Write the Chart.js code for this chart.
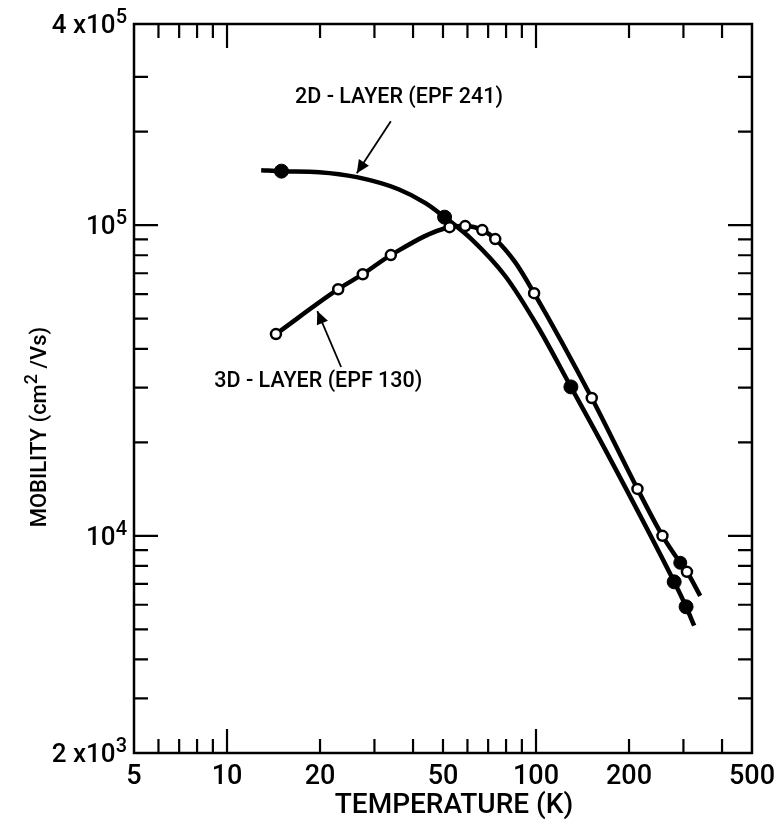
<!DOCTYPE html>
<html>
<head>
<meta charset="utf-8">
<script src="https://cdn.jsdelivr.net/npm/chart.js@4"></script>
<style>
  body { margin: 0; background: #fff; }
</style>
</head>
<body>
<canvas id="grafico" width="783" height="834"></canvas>
<script>
// valores: temperatura (K) e mobilidade (cm2/Vs)

// curva 2D - LAYER (EPF 241)
const tempCurva2D = [12.9, 15.0, 19.9, 26.3, 35.9, 43.9, 50.6, 61.8, 79.5, 101.5, 129.7, 167, 280, 306, 325];
const mobCurva2D = [150300, 149200, 148100, 142700, 130500, 117700, 106100, 90200, 68600, 47000, 30150, 19050, 7110, 5910, 5140];
// pontos cheios medidos (2D)
const tempPontos2D = [15.0, 50.6, 129.7, 280, 306];
const mobPontos2D = [149200, 106100, 30150, 7110, 5910];

// curva 3D - LAYER (EPF 130)
const tempCurva3D = [14.4, 22.9, 27.5, 33.9, 52.5, 59, 67, 73.8, 85.6, 98.6, 151.5, 213, 256.6, 293, 308, 340];
const mobCurva3D = [44600, 62200, 69500, 80100, 98500, 99300, 96400, 90200, 76000, 60400, 27770, 14160, 10000, 8190, 7660, 6410];
// pontos abertos medidos (3D)
const tempPontos3D = [14.4, 22.9, 27.5, 33.9, 52.5, 59, 67, 73.8, 98.6, 151.5, 213, 256.6, 308];
const mobPontos3D = [44600, 62200, 69500, 80100, 98500, 99300, 96400, 90200, 60400, 27770, 14160, 10000, 7660];
// ponto cheio isolado sobre a curva 3D
const tempExtra3D = [293];
const mobExtra3D = [8190];

// eixos
const xMin = 5, xMax = 500;
const yMin = 2000, yMax = 444000; // topo da moldura (rotulado 4 x 10^5 na figura)
const ticksX = [5, 6, 7, 8, 9, 10, 20, 30, 40, 50, 60, 70, 80, 90, 100, 200, 300, 400, 500];
const valoresRotuloX = [5, 10, 20, 50, 100, 200, 500];
const rotulosX = ['5', '10', '20', '50', '100', '200', '500'];
const ticksY = [2000, 3000, 4000, 5000, 6000, 7000, 8000, 9000, 10000, 20000, 30000, 40000, 50000, 60000, 70000, 80000, 90000, 100000, 200000, 300000, 444000];
const valoresRotuloY = [2000, 10000, 100000, 444000];
const prefixosRotuloY = ['2 x', '', '', '4 x'];
const expoentesRotuloY = ['3', '4', '5', '5'];
const ticksMaioresX = [10, 100];
const ticksMaioresY = [10000, 100000];

const tituloX = 'TEMPERATURE (K)';
const tituloY = ['MOBILITY (cm', '2', ' /Vs)'];

// anotacoes: texto e seta (em coordenadas de dados)
const anotacoes = [
    { texto: '2D - LAYER (EPF 241)', tx: 16.6, ty: 258000, de: [33.9, 216000], para: [26.3, 146900] },
    { texto: '3D - LAYER (EPF 130)', tx: 9.1, ty: 31260, de: [23.4, 34950], para: [19.6, 52900] }
];

const FONTE = 'Roboto, "DejaVu Sans", sans-serif';
const PESO = '500 ';

function pares(xs, ys) {
    return xs.map((x, i) => ({ x: x, y: ys[i] }));
}

// texto com expoente, alinhado pela direita ou centrado
function textoComExpoente(ctx, partes, x, y, tam, tamSup, subida, alinhamento) {
    ctx.font = PESO + tam + 'px ' + FONTE;
    const w0 = ctx.measureText(partes[0]).width;
    const w2 = partes[2] ? ctx.measureText(partes[2]).width : 0;
    ctx.font = PESO + tamSup + 'px ' + FONTE;
    const w1 = ctx.measureText(partes[1]).width;
    const total = w0 + w1 + w2;
    let x0 = alinhamento === 'right' ? x - total : x - total / 2;
    ctx.textAlign = 'left';
    ctx.textBaseline = 'alphabetic';
    const base = y + tam * 0.36;
    ctx.font = PESO + tam + 'px ' + FONTE;
    ctx.fillText(partes[0], x0, base);
    ctx.font = PESO + tamSup + 'px ' + FONTE;
    ctx.fillText(partes[1], x0 + w0, base - subida);
    if (partes[2]) {
        ctx.font = PESO + tam + 'px ' + FONTE;
        ctx.fillText(partes[2], x0 + w0 + w1, base);
    }
}

// moldura, marcas dos eixos, rotulos do eixo y, titulos e anotacoes
const desenhoFigura = {
    id: 'desenhoFigura',
    afterDatasetsDraw(chart) {
        const ctx = chart.ctx;
        const a = chart.chartArea;
        const sx = chart.scales.x;
        const sy = chart.scales.y;
        ctx.save();
        ctx.strokeStyle = '#000';
        ctx.fillStyle = '#000';
        ctx.lineWidth = 2.5;
        ctx.lineCap = 'butt';
        ctx.strokeRect(a.left, a.top, a.right - a.left, a.bottom - a.top);

        // marcas para dentro, nos quatro lados
        ctx.lineWidth = 2.2;
        ticksX.forEach((v) => {
            if (v === xMin || v === xMax) return;
            const px = sx.getPixelForValue(v);
            const len = ticksMaioresX.includes(v) ? 24 : 14;
            ctx.beginPath();
            ctx.moveTo(px, a.bottom); ctx.lineTo(px, a.bottom - len);
            ctx.moveTo(px, a.top); ctx.lineTo(px, a.top + len);
            ctx.stroke();
        });
        ticksY.forEach((v) => {
            if (v === yMin || v === yMax) return;
            const py = sy.getPixelForValue(v);
            const len = ticksMaioresY.includes(v) ? 24 : 14;
            ctx.beginPath();
            ctx.moveTo(a.left, py); ctx.lineTo(a.left + len, py);
            ctx.moveTo(a.right, py); ctx.lineTo(a.right - len, py);
            ctx.stroke();
        });

        // rotulos do eixo y (potencias de dez)
        valoresRotuloY.forEach((v, i) => {
            textoComExpoente(ctx, [prefixosRotuloY[i] + '10', expoentesRotuloY[i]],
                a.left - 7, sy.getPixelForValue(v), 26, 20, 10, 'right');
        });

        // titulos dos eixos
        ctx.font = PESO + '28px ' + FONTE;
        ctx.textAlign = 'center';
        ctx.textBaseline = 'middle';
        ctx.fillText(tituloX, 454, 806);
        ctx.save();
        ctx.translate(38, 427);
        ctx.rotate(-Math.PI / 2);
        textoComExpoente(ctx, tituloY, 0, 0, 22, 18, 9, 'center');
        ctx.restore();

        // anotacoes com setas
        ctx.font = PESO + '21.5px ' + FONTE;
        ctx.textAlign = 'left';
        ctx.textBaseline = 'middle';
        anotacoes.forEach((an) => {
            ctx.fillText(an.texto, sx.getPixelForValue(an.tx), sy.getPixelForValue(an.ty));
            const x1 = sx.getPixelForValue(an.de[0]), y1 = sy.getPixelForValue(an.de[1]);
            const x2 = sx.getPixelForValue(an.para[0]), y2 = sy.getPixelForValue(an.para[1]);
            ctx.lineWidth = 1.8;
            ctx.beginPath();
            ctx.moveTo(x1, y1); ctx.lineTo(x2, y2);
            ctx.stroke();
            const ang = Math.atan2(y2 - y1, x2 - x1);
            const comp = 13, larg = 6;
            ctx.beginPath();
            ctx.moveTo(x2, y2);
            ctx.lineTo(x2 - comp * Math.cos(ang) + larg * Math.sin(ang), y2 - comp * Math.sin(ang) - larg * Math.cos(ang));
            ctx.lineTo(x2 - comp * Math.cos(ang) - larg * Math.sin(ang), y2 - comp * Math.sin(ang) + larg * Math.cos(ang));
            ctx.closePath();
            ctx.fill();
        });
        ctx.restore();
    }
};

const ctx1 = document.getElementById('grafico');

new Chart(ctx1, {
    type: 'line',
    data: {
        datasets: [
            {
                label: 'Pontos 2D',
                data: pares(tempPontos2D, mobPontos2D),
                showLine: false,
                pointRadius: 7,
                pointBackgroundColor: '#000',
                pointBorderColor: '#000',
                pointBorderWidth: 1,
                order: 1
            },
            {
                label: 'Pontos 3D',
                data: pares(tempPontos3D, mobPontos3D),
                showLine: false,
                pointRadius: 5,
                pointBackgroundColor: '#fff',
                pointBorderColor: '#000',
                pointBorderWidth: 2.5,
                order: 1
            },
            {
                label: 'Ponto cheio 3D',
                data: pares(tempExtra3D, mobExtra3D),
                showLine: false,
                pointRadius: 6.5,
                pointBackgroundColor: '#000',
                pointBorderColor: '#000',
                order: 1
            },
            {
                label: '2D - LAYER (EPF 241)',
                data: pares(tempCurva2D, mobCurva2D),
                borderColor: '#000',
                borderWidth: 4.5,
                pointRadius: 0,
                cubicInterpolationMode: 'monotone',
                fill: false,
                order: 2
            },
            {
                label: '3D - LAYER (EPF 130)',
                data: pares(tempCurva3D, mobCurva3D),
                borderColor: '#000',
                borderWidth: 4.5,
                pointRadius: 0,
                cubicInterpolationMode: 'monotone',
                fill: false,
                order: 2
            }
        ]
    },
    options: {
        responsive: false,
        animation: false,
        devicePixelRatio: 1,
        layout: { padding: { top: 24, right: 28, left: 0, bottom: 0 } },
        plugins: {
            legend: { display: false },
            tooltip: { enabled: false }
        },
        scales: {
            x: {
                type: 'logarithmic',
                min: xMin,
                max: xMax,
                grid: { display: false, drawTicks: false },
                border: { display: false },
                afterBuildTicks: (scale) => {
                    scale.ticks = ticksX.map((v) => ({ value: v }));
                },
                afterFit: (scale) => { scale.height = 81; },
                ticks: {
                    autoSkip: false,
                    maxRotation: 0,
                    padding: 8,
                    color: '#000',
                    font: { family: FONTE, size: 27, weight: '500' },
                    callback: (v) => {
                        const i = valoresRotuloX.indexOf(v);
                        return i >= 0 ? rotulosX[i] : '';
                    }
                }
            },
            y: {
                type: 'logarithmic',
                min: yMin,
                max: yMax,
                grid: { display: false, drawTicks: false },
                border: { display: false },
                afterBuildTicks: (scale) => {
                    scale.ticks = ticksY.map((v) => ({ value: v }));
                },
                afterFit: (scale) => { scale.width = 134; },
                ticks: { display: false }
            }
        }
    },
    plugins: [desenhoFigura]
});
</script>
</body>
</html>
